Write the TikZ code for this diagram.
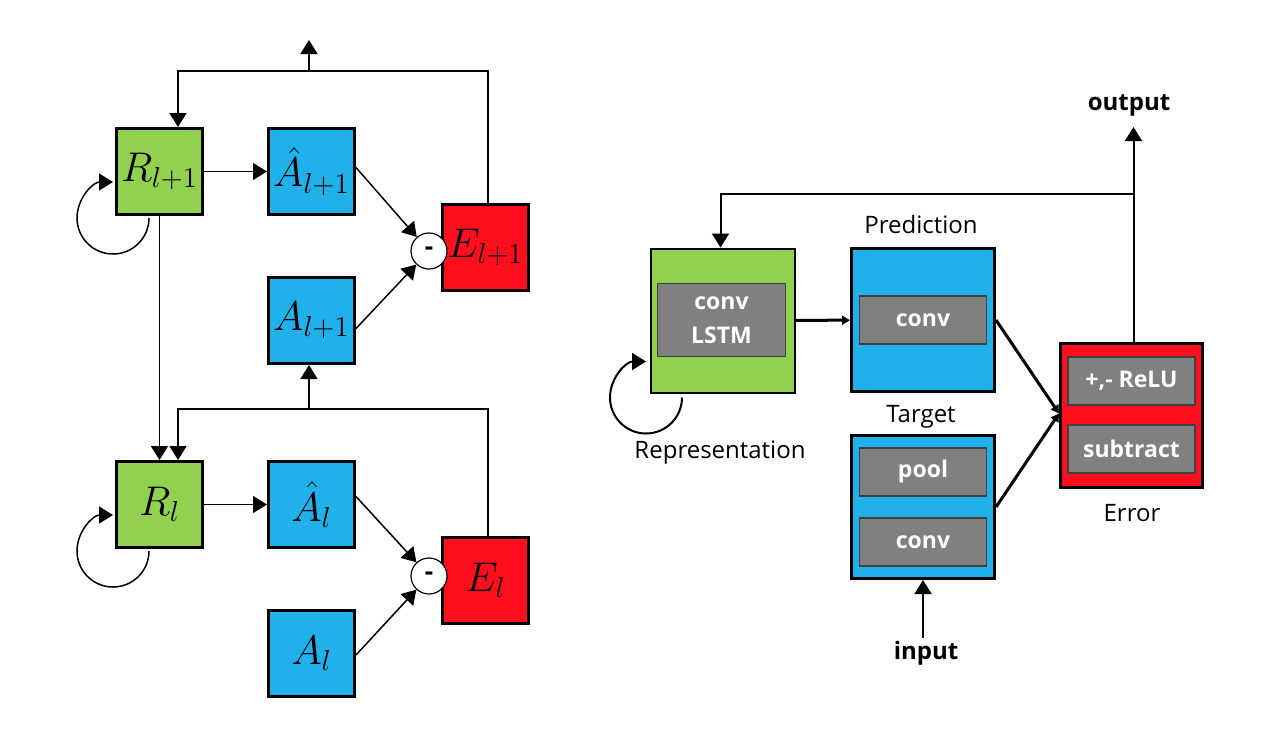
\documentclass[tikz,border=0pt]{standalone}
\usepackage{fontspec}
\setmainfont{Open Sans}
\usetikzlibrary{arrows.meta,calc}

\definecolor{repgreen}{RGB}{146,208,80}
\definecolor{predblue}{RGB}{32,176,234}
\definecolor{errred}{RGB}{255,14,30}
\definecolor{innergray}{RGB}{128,128,128}

\tikzset{
    cell/.style={draw, line width=1.5pt, minimum width=43pt, minimum height=43pt,
                 inner sep=0pt, font=\fontsize{20}{24}\selectfont},
    bigbox/.style={draw, line width=1.5pt, minimum width=71.5pt, minimum height=71.5pt, inner sep=0pt},
    inner/.style={draw=black!75, line width=0.75pt, fill=innergray, text=white,
                  minimum width=63.5pt, minimum height=24pt, inner sep=0pt,
                  align=center, font=\fontsize{11.5}{17}\selectfont\bfseries},
    lbl/.style={font=\fontsize{12}{14}\selectfont, inner sep=0pt},
    arr/.style={-{Triangle[length=7pt,width=8.5pt]}, line width=0.75pt},
    arrsmall/.style={-{Triangle[length=4pt,width=4.5pt]}, line width=1.5pt},
    minus/.style={draw, fill=white, circle, minimum size=18pt, inner sep=0pt,
                  line width=0.6pt, font=\fontsize{13}{14}\selectfont\bfseries}
}

\begin{document}
\begin{tikzpicture}[x=0.5pt, y=0.5pt]
    \useasboundingbox (0,0) rectangle (1264,-730);

    % Livello l+1
    \node[cell, fill=repgreen]  (R1) at (159.5,-171.5) {$R_{l+1}$};
    \node[cell, fill=predblue]  (Ah1) at (311.5,-171.5) {$\hat{A}_{l+1}$};
    \node[cell, fill=predblue]  (A1) at (311.5,-320.5) {$A_{l+1}$};
    \node[cell, fill=errred]    (E1) at (485.5,-247.5) {$E_{l+1}$};
    \node[minus] (m1) at (429,-251) {-};

    % Livello l
    \node[cell, fill=repgreen]  (R0) at (159.5,-504.5) {$R_{l}$};
    \node[cell, fill=predblue]  (Ah0) at (311.5,-504.5) {$\hat{A}_{l}$};
    \node[cell, fill=predblue]  (A0) at (311.5,-653) {$A_{l}$};
    \node[cell, fill=errred]    (E0) at (485.5,-580) {$E_{l}$};
    \node[minus] (m0) at (429,-576) {-};

    \coordinate (top1) at (309,-71);
    \coordinate (up1) at (309,-40);
    \coordinate (top0) at (309,-409);

    % Collegamenti livello l+1
    \draw[arr] (R1) -- (Ah1);
    \draw[arr] ([yshift=2pt]Ah1.east) -- (m1);
    \draw[arr] ([yshift=-4pt]A1.east) -- (m1);
    \draw[arr] ([xshift=1.25pt]E1.north) |- (top1) -| ($(R1.north)+(18.5,0)$);
    \draw[arr] (top1) -- (up1);
    \draw[arr] ([xshift=-5.25pt,yshift=-1pt]R1.south) arc[start angle=0, end angle=-270, radius=36];

    % Collegamenti livello l
    \draw[arr] (R1.south) -- (R0.north);
    \draw[arr] (R0) -- (Ah0);
    \draw[arr] ([yshift=4pt]Ah0.east) -- (m0);
    \draw[arr] ([yshift=-1pt]A0.east) -- (m0);
    \draw[arr] ([xshift=1.25pt]E0.north) |- (top0) -| ($(R0.north)+(18.5,0)$);
    \draw[arr] (top0) -- (top0 |- A1.south);
    \draw[arr] ([xshift=-5.25pt,yshift=-1pt]R0.south) arc[start angle=0, end angle=-270, radius=36];

    % Modulo a destra
    \node[bigbox, fill=repgreen, line width=1pt, minimum width=72pt, minimum height=72pt] (rep) at (723,-320.5) {};
    \node[inner, minimum width=64pt, minimum height=36.5pt] (lstm) at (721.5,-320) {conv\\LSTM};
    \node[bigbox, fill=predblue] (pred) at (923,-320) {};
    \node[inner] (pconv) at (923,-320) {conv};
    \node[bigbox, fill=predblue] (tgt) at (923,-507) {};
    \node[inner] (pool) at (923,-472) {pool};
    \node[inner] (tconv) at (923,-542) {conv};
    \node[bigbox, fill=errred, minimum width=71pt, minimum height=72pt] (err) at (1131.5,-415.5) {};
    \node[inner] (relu) at (1131.5,-381) {+,- ReLU};
    \node[inner] (sub) at (1131.5,-449) {subtract};

    \node[lbl] (lpred) at (921,-224) {Prediction};
    \node[lbl] (ltgt) at (921,-417) {Target};
    \node[lbl] (lrep) at (720,-453) {Representation};
    \node[lbl] (lerr) at (1132,-513) {Error};
    \node[lbl, font=\fontsize{12}{14}\selectfont\bfseries] (lout) at (1129,-105) {output};
    \node[lbl, font=\fontsize{12}{14}\selectfont\bfseries] (lin) at (926,-653) {input};

    \coordinate (outtip) at (1133.5,-127);
    \coordinate (fb) at (1133.5,-194);
    \coordinate (intail) at (923,-638);

    \draw[arrsmall] (rep) -- (pred);
    \draw[arrsmall] (pred.east) -- ([yshift=1pt]err.west);
    \draw[arrsmall] (tgt.east) -- ([yshift=1pt]err.west);
    \draw[arr, line width=1pt] ([xshift=1pt]err.north) -- (outtip);
    \draw[arr, line width=1pt] (fb) -| ([xshift=-1.25pt]rep.north);
    \draw[arr, line width=1pt] (intail) -- (tgt.south);
    \draw[arr, line width=1pt] ($(rep.south)+(-41,-4)$) arc[start angle=0, end angle=-270, radius=36];

\end{tikzpicture}
\end{document}
